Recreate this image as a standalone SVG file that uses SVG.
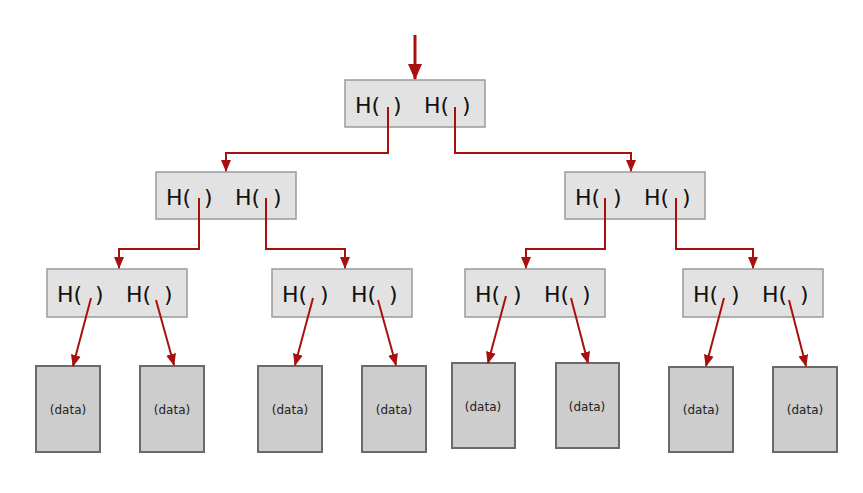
<svg xmlns="http://www.w3.org/2000/svg" width="863" height="493" viewBox="0 0 863 493">
<style>
.hb{fill:#e2e2e2;stroke:#9a9a9a;stroke-width:1.5}
.db{fill:#cdcdcd;stroke:#6a6a6a;stroke-width:2}
.ht{font-family:"DejaVu Sans","Liberation Sans",sans-serif;font-size:22px;fill:#111}
.dt{font-family:"DejaVu Sans","Liberation Sans",sans-serif;font-size:12px;fill:#222;text-anchor:middle}
.c{fill:none;stroke:#a81010;stroke-width:2}
</style>
<defs>
<marker id="ah" markerWidth="12" markerHeight="12" refX="11" refY="6" orient="auto" markerUnits="userSpaceOnUse">
<path d="M0,1 L12,6 L0,11 Z" fill="#a81010"/>
</marker>
<marker id="ah2" markerWidth="16" markerHeight="16" refX="15" refY="8" orient="auto" markerUnits="userSpaceOnUse">
<path d="M0,1 L16,8 L0,15 Z" fill="#a81010"/>
</marker>
</defs>
<g id="root">
<rect class="hb" x="345" y="80" width="140" height="47"/>
<text class="ht" y="113"><tspan x="355">H(</tspan><tspan x="393">)</tspan><tspan x="424">H(</tspan><tspan x="462">)</tspan></text>
</g>
<g id="n1">
<rect class="hb" x="156" y="172" width="140" height="47"/>
<text class="ht" y="205"><tspan x="166">H(</tspan><tspan x="204">)</tspan><tspan x="235">H(</tspan><tspan x="273">)</tspan></text>
</g>
<g id="n2">
<rect class="hb" x="565" y="172" width="140" height="47"/>
<text class="ht" y="205"><tspan x="575">H(</tspan><tspan x="613">)</tspan><tspan x="644">H(</tspan><tspan x="682">)</tspan></text>
</g>
<g id="n3">
<rect class="hb" x="47" y="269" width="140" height="48"/>
<text class="ht" y="302"><tspan x="57">H(</tspan><tspan x="95">)</tspan><tspan x="126">H(</tspan><tspan x="164">)</tspan></text>
</g>
<g id="n4">
<rect class="hb" x="272" y="269" width="140" height="48"/>
<text class="ht" y="302"><tspan x="282">H(</tspan><tspan x="320">)</tspan><tspan x="351">H(</tspan><tspan x="389">)</tspan></text>
</g>
<g id="n5">
<rect class="hb" x="465" y="269" width="140" height="48"/>
<text class="ht" y="302"><tspan x="475">H(</tspan><tspan x="513">)</tspan><tspan x="544">H(</tspan><tspan x="582">)</tspan></text>
</g>
<g id="n6">
<rect class="hb" x="683" y="269" width="140" height="48"/>
<text class="ht" y="302"><tspan x="693">H(</tspan><tspan x="731">)</tspan><tspan x="762">H(</tspan><tspan x="800">)</tspan></text>
</g>
<g id="d1"><rect class="db" x="36" y="366" width="64" height="86"/><text class="dt" x="68" y="414">(data)</text></g>
<g id="d2"><rect class="db" x="140" y="366" width="64" height="86"/><text class="dt" x="172" y="414">(data)</text></g>
<g id="d3"><rect class="db" x="258" y="366" width="64" height="86"/><text class="dt" x="290" y="414">(data)</text></g>
<g id="d4"><rect class="db" x="362" y="366" width="64" height="86"/><text class="dt" x="394" y="414">(data)</text></g>
<g id="d5"><rect class="db" x="452" y="363" width="63" height="85"/><text class="dt" x="483" y="411">(data)</text></g>
<g id="d6"><rect class="db" x="556" y="363" width="63" height="85"/><text class="dt" x="587" y="411">(data)</text></g>
<g id="d7"><rect class="db" x="669" y="367" width="64" height="85"/><text class="dt" x="701" y="414">(data)</text></g>
<g id="d8"><rect class="db" x="773" y="367" width="64" height="85"/><text class="dt" x="805" y="414">(data)</text></g>
<g id="connectors">
<path class="c" style="stroke-width:3" d="M415,35 L415,79" marker-end="url(#ah2)"/>
<path class="c" d="M388,107 V153 H226 V171" marker-end="url(#ah)"/>
<path class="c" d="M455,107 V153 H631 V171" marker-end="url(#ah)"/>
<path class="c" d="M199,198 V249 H119 V268" marker-end="url(#ah)"/>
<path class="c" d="M266,198 V249 H345 V268" marker-end="url(#ah)"/>
<path class="c" d="M605,198 V249 H526 V268" marker-end="url(#ah)"/>
<path class="c" d="M676,198 V249 H753 V268" marker-end="url(#ah)"/>
<path class="c" d="M91,298 L73,366" marker-end="url(#ah)"/>
<path class="c" d="M156,300 L174,365" marker-end="url(#ah)"/>
<path class="c" d="M313,298 L295,365" marker-end="url(#ah)"/>
<path class="c" d="M378,300 L396,365" marker-end="url(#ah)"/>
<path class="c" d="M506,296 L488,363" marker-end="url(#ah)"/>
<path class="c" d="M571,298 L588,363" marker-end="url(#ah)"/>
<path class="c" d="M724,298 L706,366" marker-end="url(#ah)"/>
<path class="c" d="M789,300 L806,366" marker-end="url(#ah)"/>
</g>
</svg>
